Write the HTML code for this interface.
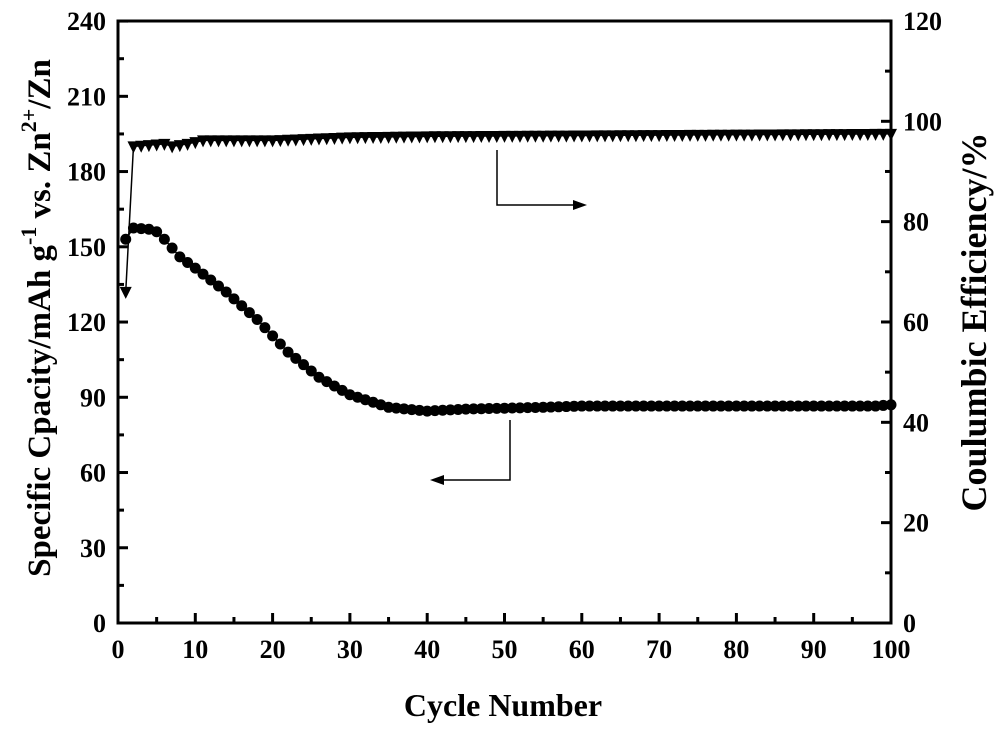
<!DOCTYPE html>
<html><head><style>
body{margin:0;background:#fff}
svg text{font-family:"Liberation Serif",serif;font-weight:bold;fill:#000}
</style></head><body>
<svg id="s" width="1000" height="732" xmlns="http://www.w3.org/2000/svg">
<rect x="118" y="21" width="773" height="602" fill="none" stroke="#000" stroke-width="3"/>
<g id="ticks" stroke="#000" stroke-width="3"></g>
<g id="labels" font-size="26"></g>
<text x="503" y="716" font-size="32" text-anchor="middle">Cycle Number</text>
<text transform="translate(50,318) rotate(-90)" font-size="33" text-anchor="middle">Specific Cpacity/mAh g<tspan dy="-14" font-size="22">-1</tspan><tspan dy="14"> vs. Zn</tspan><tspan dy="-14" font-size="22">2+</tspan><tspan dy="14">/Zn</tspan></text>
<text transform="translate(986,322) rotate(-90)" font-size="36" text-anchor="middle">Coulumbic Efficiency/%</text>
<g id="lines" fill="none" stroke="#000" stroke-width="1.5"></g>
<g id="marks"></g>
<g stroke="#000" stroke-width="1.5" fill="none">
<polyline points="497,150 497,205 575,205"/>
<polyline points="510,420 510,480 442,480"/>
</g>
<polygon points="587,205 573,200 573,210" fill="#000"/>
<polygon points="430,480 444,475 444,485" fill="#000"/>
</svg>
<script>
const NS="http://www.w3.org/2000/svg";
const X=c=>118+c*7.73, YL=v=>623-v*2.508, YR=v=>623-v*5.017;
function el(p,t,a){const e=document.createElementNS(NS,t);for(const k in a)e.setAttribute(k,a[k]);document.getElementById(p).appendChild(e);return e}
for(let i=0;i<=20;i++){const x=X(i*5),L=i%2?6:10;el('ticks','line',{x1:x,y1:623,x2:x,y2:623-L});
 if(i%2==0){const t=el('labels','text',{x:x,y:658,'text-anchor':'middle'});t.textContent=i*5;}}
for(let i=0;i<=16;i++){const y=YL(i*15),L=i%2?6:10;el('ticks','line',{x1:118,y1:y,x2:118+L,y2:y});
 if(i%2==0){const t=el('labels','text',{x:106,y:y+9,'text-anchor':'end'});t.textContent=i*15;}}
for(let i=0;i<=12;i++){const y=YR(i*10),L=i%2?6:10;el('ticks','line',{x1:891,y1:y,x2:891-L,y2:y});
 if(i%2==0){const t=el('labels','text',{x:903,y:y+9});t.textContent=i*10;}}
function interp(k,c){for(let i=0;i<k.length-1;i++){if(c>=k[i][0]&&c<=k[i+1][0]){const f=(c-k[i][0])/(k[i+1][0]-k[i][0]);return k[i][1]+f*(k[i+1][1]-k[i][1]);}}return k[k.length-1][1]}
const cap=[[1,153],[2,157.5],[4,157],[5,156],[6,153],[8,146],[10,141.5],[14,132],[18,121],[22,108],[26,98],[30,91],[35,86],[40,84.5],[45,85.3],[55,86],[60,86.5],[98,86.5],[100,87]];
const ce=[[1,66],[2,95],[6,95.5],[7,95],[9,95.5],[11,96.2],[20,96.2],[30,96.8],[40,97],[100,97.5]];
let p1=[],p2=[];
for(let c=1;c<=100;c++){const a=interp(cap,c),b=interp(ce,c);p1.push(X(c)+','+YL(a));p2.push(X(c)+','+YR(b));
 el('marks','circle',{cx:X(c),cy:YL(a),r:5.5,fill:'#000'});
 const x=X(c),y=YR(b);el('marks','polygon',{points:`${x-6},${y-5} ${x+6},${y-5} ${x},${y+7}`,fill:'#000'});}
el('lines','polyline',{points:p1.join(' ')});el('lines','polyline',{points:p2.join(' ')});
</script>
</body></html>
